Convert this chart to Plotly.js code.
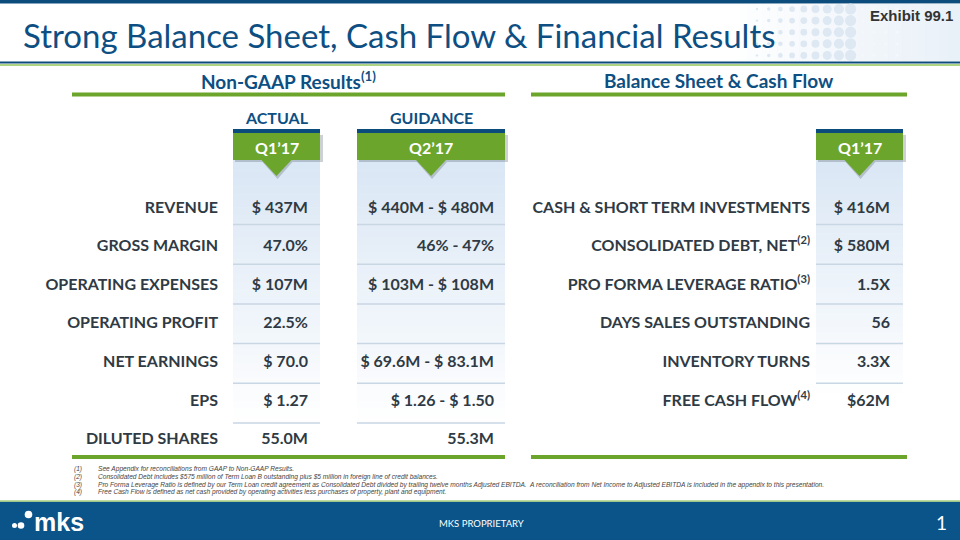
<!DOCTYPE html>
<html>
<head>
<meta charset="utf-8">
<script src="https://cdn.plot.ly/plotly-3.0.1.min.js"></script>
<style>html,body{margin:0;padding:0;background:#fff;}#chart{width:960px;height:540px;}</style>
</head>
<body>
<div id="chart"></div>
<script>
// ---- Data ----
const chartTitle = 'Strong Balance Sheet, Cash Flow & Financial Results';
const leftGroupTitle = 'Non-GAAP Results<sup>(1)</sup>';
const rightGroupTitle = 'Balance Sheet & Cash Flow';
const leftColumnHeads = ['ACTUAL', 'GUIDANCE'];
const periodTabs = ['Q1\u201917', 'Q2\u201917', 'Q1\u201917'];
const leftLabels = ['REVENUE', 'GROSS MARGIN', 'OPERATING EXPENSES', 'OPERATING PROFIT', 'NET EARNINGS', 'EPS', 'DILUTED SHARES'];
const actualQ1 = ['$ 437M', '47.0%', '$ 107M', '22.5%', '$ 70.0', '$ 1.27', '55.0M'];
const guidanceQ2 = ['$ 440M - $ 480M', '46% - 47%', '$ 103M - $ 108M', '', '$ 69.6M - $ 83.1M', '$ 1.26 - $ 1.50', '55.3M'];
const rightLabels = ['CASH & SHORT TERM INVESTMENTS', 'CONSOLIDATED DEBT, NET<sup>(2)</sup>', 'PRO FORMA LEVERAGE RATIO<sup>(3)</sup>', 'DAYS SALES OUTSTANDING', 'INVENTORY TURNS', 'FREE CASH FLOW<sup>(4)</sup>'];
const rightQ1 = ['$ 416M', '$ 580M', '1.5X', '56', '3.3X', '$62M'];
const footnoteNums = ['(1)', '(2)', '(3)', '(4)'];
const footnotes = [
  'See Appendix for reconciliations from GAAP to Non-GAAP Results.',
  'Consolidated Debt includes $575 million of Term Loan B outstanding plus $5 million in foreign line of credit balances.',
  'Pro Forma Leverage Ratio is defined by our Term Loan credit agreement as Consolidated Debt divided by trailing twelve months Adjusted EBITDA.  A reconciliation from Net Income to Adjusted EBITDA is included in the appendix to this presentation.',
  'Free Cash Flow is defined as net cash provided by operating activities less purchases of property, plant and equipment.'
];

// ---- Styles ----
const BLUE = '#0e4f83', DARKBLUE = '#0b4c7c', GREEN = '#6ca52c', TXT = '#2f3a44';
const LINE = '#c9d6e3';
const FONT = 'Lato, "Open Sans", sans-serif';
const NOTEFONT = '"Liberation Sans", Arial, sans-serif';
const rowY = i => 208.5 + 38.6 * i;
const sepY = k => 224.5 + 39.7 * k;

const cols = [
  {x0: 233, x1: 320, lines: 6, fadeEnd: 430},
  {x0: 357, x1: 505, lines: 6, fadeEnd: 430},
  {x0: 816, x1: 903, lines: 5, fadeEnd: 400}
];

const shapes = [];
const annotations = [];

shapes.push({type: 'rect', x0: 0, x1: 960, y0: 0, y1: 3.5, fillcolor: DARKBLUE, line: {width: 0}, layer: 'below'});
for (let s = 0; s < 30; s++) {
  const x0 = 740 + s * 7.4;
  const t = s / 29;
  const a = 0.05 + 0.5 * t;
  shapes.push({type: 'rect', x0: x0, x1: x0 + 7.5, y0: 3.5, y1: 61, fillcolor: 'rgba(214,228,242,' + a.toFixed(3) + ')', line: {width: 0}, layer: 'below'});
}
for (let c = 0; c < 13; c++) {
  for (let r = 0; r < 5; r++) {
    const cx = 757 + c * 11.7, cy = 9 + r * 11.6;
    const rad = c < 9 ? 1.2 + c * 0.55 : 1.4;
    shapes.push({type: 'circle', x0: cx - rad, x1: cx + rad, y0: cy - rad, y1: cy + rad, fillcolor: c < 9 ? '#dde8f3' : '#f4f8fc', line: {width: 0}, layer: 'below'});
  }
}
shapes.push({type: 'line', x0: 0, x1: 960, y0: 62.5, y1: 62.5, line: {color: DARKBLUE, width: 2}});
shapes.push({type: 'line', x0: 0, x1: 960, y0: 65, y1: 65, line: {color: '#93c45a', width: 1.5}});

[[72, 505], [531, 907]].forEach(([a, b]) => {
  shapes.push({type: 'line', x0: a, x1: b, y0: 94.5, y1: 94.5, line: {color: GREEN, width: 4}});
  shapes.push({type: 'line', x0: a, x1: b, y0: 457, y1: 457, line: {color: GREEN, width: 4}});
});

cols.forEach((c, ci) => {
  const top = 133, bot = c.fadeEnd, n = 40;
  for (let s = 0; s < n; s++) {
    const y0 = top + (bot - top) * s / n, y1 = top + (bot - top) * (s + 1) / n + 0.6;
    const t = s / (n - 1);
    const r = Math.round(214 + (255 - 214) * t), g = Math.round(228 + (255 - 228) * t), bl = Math.round(243 + (255 - 243) * t);
    shapes.push({type: 'rect', x0: c.x0, x1: c.x1, y0: y0, y1: y1, fillcolor: 'rgb(' + r + ',' + g + ',' + bl + ')', line: {width: 0}, layer: 'below'});
  }
  for (let k = 0; k < c.lines; k++) {
    shapes.push({type: 'line', x0: c.x0, x1: c.x1, y0: sepY(k), y1: sepY(k), line: {color: LINE, width: 1.5}});
  }
  const cx = (c.x0 + c.x1) / 2;
  shapes.push({type: 'path', path: `M ${c.x0 + 2} 135 L ${c.x1 + 3} 135 L ${c.x1 + 3} 162 L ${cx + 16} 162 L ${cx + 1} 179 L ${cx - 14} 162 L ${c.x0 + 2} 162 Z`, fillcolor: 'rgba(60,70,80,0.25)', line: {width: 0}});
  shapes.push({type: 'path', path: `M ${c.x0} 133 L ${c.x1} 133 L ${c.x1} 160 L ${cx + 15} 160 L ${cx} 176 L ${cx - 15} 160 L ${c.x0} 160 Z`, fillcolor: GREEN, line: {width: 0}});
  shapes.push({type: 'rect', x0: c.x0, x1: c.x1, y0: 129, y1: 133, fillcolor: DARKBLUE, line: {width: 0}});
  annotations.push({x: cx, y: 147, text: '<b>' + periodTabs[ci] + '</b>', showarrow: false, xanchor: 'center', yanchor: 'middle', font: {family: FONT, size: 16, color: '#ffffff'}});
});

shapes.push({type: 'rect', x0: 0, x1: 960, y0: 501.5, y1: 540, fillcolor: '#0a5489', line: {width: 0}});
shapes.push({type: 'line', x0: 0, x1: 960, y0: 501, y1: 501, line: {color: '#a9d07a', width: 1.5}});
[[14.5, 525.5, 2.5], [21, 525.5, 3.3], [28.5, 514.5, 3.8]].forEach(([x, y, r]) => {
  shapes.push({type: 'circle', x0: x - r, x1: x + r, y0: y - r, y1: y + r, fillcolor: '#ffffff', line: {width: 0}});
});

annotations.push({x: 21, y: 35, text: chartTitle, showarrow: false, xanchor: 'left', yanchor: 'middle', font: {family: FONT, size: 33, color: BLUE}});
annotations.push({x: 955, y: 15, text: '<b>Exhibit 99.1</b>', showarrow: false, xanchor: 'right', yanchor: 'middle', font: {family: NOTEFONT, size: 15, color: '#333333'}});
annotations.push({x: 288, y: 80, text: '<b>' + leftGroupTitle + '</b>', showarrow: false, xanchor: 'center', yanchor: 'middle', font: {family: FONT, size: 19, color: BLUE}});
annotations.push({x: 719, y: 80, text: '<b>' + rightGroupTitle + '</b>', showarrow: false, xanchor: 'center', yanchor: 'middle', font: {family: FONT, size: 19, color: BLUE}});
annotations.push({x: 277, y: 117, text: '<b>' + leftColumnHeads[0] + '</b>', showarrow: false, xanchor: 'center', yanchor: 'middle', font: {family: FONT, size: 16, color: BLUE}});
annotations.push({x: 431, y: 117, text: '<b>' + leftColumnHeads[1] + '</b>', showarrow: false, xanchor: 'center', yanchor: 'middle', font: {family: FONT, size: 16, color: BLUE}});
annotations.push({x: 32, y: 522, text: '<b>mks</b>', showarrow: false, xanchor: 'left', yanchor: 'middle', font: {family: NOTEFONT, size: 25, color: '#ffffff'}});
annotations.push({x: 481, y: 523, text: 'MKS PROPRIETARY', showarrow: false, xanchor: 'center', yanchor: 'middle', font: {family: FONT, size: 9.5, color: '#ffffff'}});
annotations.push({x: 949, y: 522, text: '1', showarrow: false, xanchor: 'right', yanchor: 'middle', font: {family: FONT, size: 19, color: '#ffffff'}});
footnotes.forEach((f, i) => {
  const y = 469 + 7.8 * i;
  annotations.push({x: 72, y: y, text: footnoteNums[i], showarrow: false, xanchor: 'left', yanchor: 'middle', font: {family: NOTEFONT, size: 6.6, style: 'italic', color: '#444444'}});
  annotations.push({x: 96, y: y, text: f, showarrow: false, xanchor: 'left', yanchor: 'middle', font: {family: NOTEFONT, size: 6.6, style: 'italic', color: '#444444'}});
});

const labelFont = {family: FONT, size: 16, color: TXT, weight: 'bold'};
function textTrace(xr, labels, n) {
  return {
    type: 'scatter', mode: 'text', x: labels.map(() => xr), y: labels.map((_, i) => rowY(i)),
    text: labels, textposition: 'middle left', textfont: labelFont,
    hoverinfo: 'skip', showlegend: false, cliponaxis: false, name: n
  };
}
const traces = [
  textTrace(218, leftLabels, 'labels'),
  textTrace(308, actualQ1, 'Actual Q1\u201917'),
  textTrace(494, guidanceQ2, 'Guidance Q2\u201917'),
  textTrace(810, rightLabels, 'BS labels'),
  textTrace(890, rightQ1, 'BS Q1\u201917')
];

const layout = {
  width: 960, height: 540, margin: {l: 0, r: 0, t: 0, b: 0},
  paper_bgcolor: '#ffffff', plot_bgcolor: '#ffffff',
  xaxis: {range: [0, 960], visible: false, fixedrange: true},
  yaxis: {range: [540, 0], visible: false, fixedrange: true},
  shapes: shapes, annotations: annotations, showlegend: false
};
Plotly.newPlot('chart', traces, layout, {displayModeBar: false, staticPlot: true});
</script>
</body>
</html>
